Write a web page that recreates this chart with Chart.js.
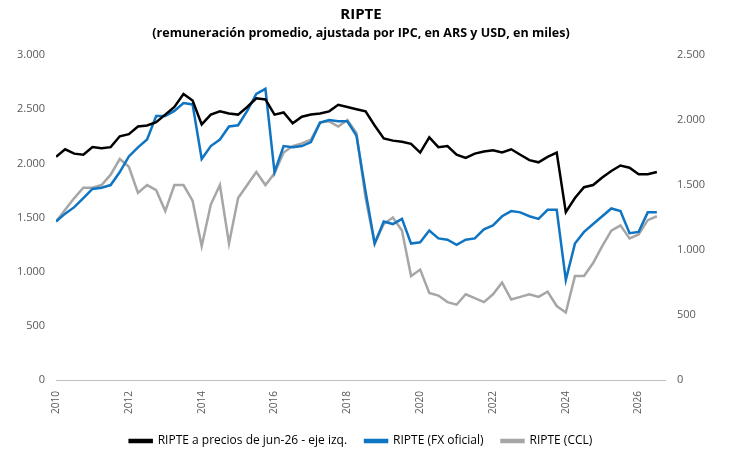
<!DOCTYPE html>
<html>
<head>
<meta charset="utf-8">
<script src="https://cdn.jsdelivr.net/npm/chart.js@4"></script>
<style>
  body { margin: 0; background: #fff; }
  #wrap { width: 738px; height: 461px; }
</style>
</head>
<body>
<div id="wrap"><canvas id="c"></canvas></div>
<script>
// Quarterly observations, 2010.00 .. 2026.50
const startYear = 2010;
const ripteReal = [2060,2130,2090,2080, 2150,2140,2150,2250, 2270,2340,2350,2380, 2450,2520,2640,2580,
  2360,2450,2480,2460, 2450,2520,2600,2590, 2450,2470,2370,2430, 2450,2460,2480,2540,
  2520,2500,2480,2350, 2230,2210,2200,2180, 2100,2240,2150,2160, 2080,2050,2090,2110,
  2120,2100,2130,2080, 2030,2010,2060,2100, 1550,1680,1780,1800, 1870,1930,1980,1960,
  1900,1900,1920];
const ripteOficial = [1220,1280,1330,1400, 1470,1480,1500,1600, 1720,1790,1850,2030, 2030,2070,2130,2120,
  1700,1800,1850,1950, 1960,2070,2200,2240, 1600,1800,1790,1800, 1830,1980,2000,1990,
  1990,1880,1450,1050, 1220,1200,1240,1050, 1060,1150,1090,1080, 1040,1080,1090,1160,
  1190,1260,1300,1290, 1260,1240,1310,1310, 770,1050,1140,1200, 1260,1320,1300,1130,
  1140,1290,1290];
const ripteCcl = [1220,1310,1400,1480, 1480,1500,1580,1700, 1640,1440,1500,1460, 1300,1500,1500,1380,
  1030,1350,1500,1050, 1400,1500,1600,1500, 1590,1750,1800,1820, 1850,1980,1990,1950,
  2000,1900,1400,1050, 1200,1250,1150,800, 850,670,650,600, 580,660,630,600,
  660,750,620,640, 660,640,680,570, 520,800,800,900, 1030,1150,1190,1090,
  1120,1230,1260];
const leftTicks = [0,500,1000,1500,2000,2500,3000];
const rightTicks = [0,500,1000,1500,2000,2500];
const yearTicks = [2010,2012,2014,2016,2018,2020,2022,2024,2026];

const fmt = v => v.toLocaleString('de-DE');
const pts = arr => arr.map((v, i) => ({ x: startYear + i / 4, y: v }));

Chart.defaults.font.family = '"Open Sans", sans-serif';

new Chart(document.getElementById('c'), {
  type: 'line',
  data: {
    datasets: [
      { label: 'RIPTE a precios de jun-26 - eje izq.', data: pts(ripteReal), borderColor: '#000000', yAxisID: 'y', borderWidth: 2.5 },
      { label: 'RIPTE (FX oficial)', data: pts(ripteOficial), borderColor: '#0f75c3', yAxisID: 'y2', borderWidth: 2.5 },
      { label: 'RIPTE (CCL)', data: pts(ripteCcl), borderColor: '#a6a6a6', yAxisID: 'y2', borderWidth: 2.5 }
    ]
  },
  options: {
    responsive: true,
    maintainAspectRatio: false,
    animation: false,
    elements: { point: { radius: 0 }, line: { tension: 0 } },
    layout: { padding: { left: 14, right: 30, bottom: 4 } },
    plugins: {
      title: { display: true, text: 'RIPTE', color: '#000', font: { size: 15, weight: 'bold' }, padding: { top: 6, bottom: 2 } },
      subtitle: { display: true, text: '(remuneración promedio, ajustada por IPC, en ARS y USD, en miles)', color: '#000', font: { size: 12.5, weight: 'bold' }, padding: { bottom: 14 } },
      legend: { position: 'bottom', labels: { boxWidth: 22, boxHeight: 2, color: '#000', font: { size: 12 }, padding: 18 } }
    },
    scales: {
      x: {
        type: 'linear', min: 2010, max: 2026.75,
        grid: { display: false, drawTicks: true },
        border: { color: '#bfbfbf' },
        afterBuildTicks: ax => { ax.ticks = yearTicks.map(v => ({ value: v })); },
        ticks: { color: '#595959', font: { size: 10 }, maxRotation: 90, minRotation: 90, callback: v => String(v) }
      },
      y: {
        position: 'left', min: 0, max: 3000,
        grid: { display: false }, border: { display: false },
        afterBuildTicks: ax => { ax.ticks = leftTicks.map(v => ({ value: v })); },
        ticks: { color: '#595959', font: { size: 11 }, callback: fmt }
      },
      y2: {
        position: 'right', min: 0, max: 2500,
        grid: { display: false }, border: { display: false },
        afterBuildTicks: ax => { ax.ticks = rightTicks.map(v => ({ value: v })); },
        ticks: { color: '#595959', font: { size: 11 }, callback: fmt }
      }
    }
  }
});
</script>
</body>
</html>
